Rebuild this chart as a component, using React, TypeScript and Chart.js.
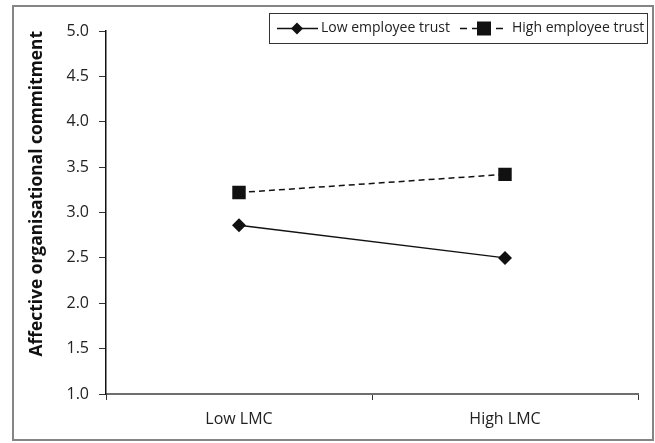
import React, { useEffect, useRef } from "react";
import { Chart, registerables } from "chart.js";

Chart.register(...registerables);

const categories = ["Low LMC", "High LMC"];
const lowTrust = [2.86, 2.5];
const highTrust = [3.22, 3.42];
const seriesNames = ["Low employee trust", "High employee trust"];
const yTitle = "Affective organisational commitment";

const FONT = "'Open Sans', sans-serif";

const framePlugin = {
  id: "frame",
  beforeDraw(chart: any) {
    const ctx = chart.ctx;
    ctx.save();
    ctx.fillStyle = "#fff";
    ctx.fillRect(0, 0, chart.width, chart.height);
    ctx.strokeStyle = "#858585";
    ctx.lineWidth = 2;
    ctx.strokeRect(13, 6, 640, 434);
    ctx.restore();
  },
};

const legendPlugin = {
  id: "boxLegend",
  afterDraw(chart: any) {
    const ctx = chart.ctx;
    const ds = chart.data.datasets;
    ctx.save();
    ctx.strokeStyle = "#333";
    ctx.lineWidth = 1;
    ctx.strokeRect(269.5, 13.5, 378, 30);
    const cy = 28.5;
    ctx.strokeStyle = "#111";
    ctx.lineWidth = 1.5;
    ctx.setLineDash([]);
    ctx.beginPath();
    ctx.moveTo(277, cy);
    ctx.lineTo(318, cy);
    ctx.stroke();
    ctx.fillStyle = "#111";
    ctx.beginPath();
    ctx.moveTo(297, cy - 6);
    ctx.lineTo(303, cy);
    ctx.lineTo(297, cy + 6);
    ctx.lineTo(291, cy);
    ctx.closePath();
    ctx.fill();
    ctx.setLineDash([7, 5]);
    ctx.beginPath();
    ctx.moveTo(460, cy);
    ctx.lineTo(508, cy);
    ctx.stroke();
    ctx.setLineDash([]);
    ctx.fillRect(477, cy - 7, 14, 14);
    ctx.fillStyle = "#222";
    ctx.font = "14px " + FONT;
    ctx.textBaseline = "middle";
    ctx.textAlign = "left";
    ctx.fillText(ds[0].label, 321, cy);
    ctx.fillText(ds[1].label, 512, cy);
    ctx.restore();
  },
};

export default function App() {
  const ref = useRef<HTMLCanvasElement | null>(null);
  useEffect(() => {
    if (!ref.current) return;
    const chart = new Chart(ref.current, {
      type: "line",
      data: {
        labels: categories,
        datasets: [
          {
            label: seriesNames[0],
            data: lowTrust,
            borderColor: "#111",
            backgroundColor: "#111",
            borderWidth: 1.5,
            pointStyle: "rectRot",
            pointRadius: 7,
            pointBorderWidth: 0,
          },
          {
            label: seriesNames[1],
            data: highTrust,
            borderColor: "#111",
            backgroundColor: "#111",
            borderWidth: 1.5,
            borderDash: [6, 4],
            pointStyle: "rect",
            pointRadius: 9.5,
            pointBorderWidth: 0,
          },
        ],
      },
      options: {
        responsive: false,
        animation: false,
        layout: { padding: { top: 31, right: 17, bottom: 0, left: 0 } },
        plugins: {
          legend: { display: false },
          tooltip: { enabled: false },
        },
        scales: {
          x: {
            type: "category",
            offset: true,
            afterFit: (s: any) => {
              s.height = 49;
            },
            grid: {
              offset: true,
              drawOnChartArea: false,
              drawTicks: true,
              tickLength: 6,
              color: "#333",
            },
            border: { display: true, color: "#6e6e6e", width: 2 },
            ticks: {
              color: "#222",
              font: { family: FONT, size: 16 },
              padding: 10,
            },
          },
          y: {
            min: 1,
            max: 5,
            afterFit: (s: any) => {
              s.width = 106;
            },
            grid: {
              drawOnChartArea: false,
              drawTicks: true,
              tickLength: 7,
              color: "#333",
            },
            border: { display: true, color: "#111", width: 1.5 },
            ticks: {
              stepSize: 0.5,
              color: "#222",
              font: { family: FONT, size: 16 },
              padding: 10,
              callback: (v: any) => Number(v).toFixed(1),
            },
            title: {
              display: true,
              text: yTitle,
              align: "end",
              color: "#111",
              font: { family: FONT, size: 17.4, weight: "bold" },
              padding: { top: 27, bottom: 0 },
            },
          },
        },
      },
      plugins: [framePlugin, legendPlugin],
    });
    return () => chart.destroy();
  }, []);
  return (
    <div style={{ position: "fixed", left: 0, top: 0, width: 655, height: 443 }}>
      <canvas ref={ref} width={655} height={443} />
    </div>
  );
}
